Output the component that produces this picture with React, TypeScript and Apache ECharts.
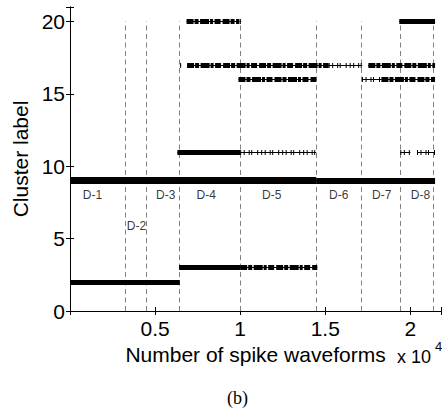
import React, { useEffect, useRef } from "react";
import * as echarts from "echarts";

// ---- data ----
const xMax = 21800;
const yMax = 21;
const xTicks = [5000, 10000, 15000, 20000];
const yTicks = [0, 5, 10, 15, 20];

// data-set boundaries (spike index)
const boundaries = [3235, 4470, 6410, 10000, 14470, 17100, 19410, 21340];

// data-set labels
const dsNames = ["D-1", "D-2", "D-3", "D-4", "D-5", "D-6", "D-7", "D-8"];
const dsLabelX = [1320, 3910, 5620, 8000, 11850, 15790, 18320, 20590];
const dsLabelY = [8, 5.9, 8, 8, 8, 8, 8, 8];

// spike runs per cluster: [start, end, density]
const cluster2: [number, number, string][] = [[0, 6450, "dense"]];
const cluster3: [number, number, string][] = [
  [6410, 10000, "dense"],
  [10000, 14530, "clumpy"],
];
const cluster9: [number, number, string][] = [
  [0, 14470, "heavy"],
  [14470, 21450, "thick"],
];
const cluster11: [number, number, string][] = [
  [6310, 10000, "dense"],
  [10000, 14470, "sparse"],
  [19410, 20000, "sparse"],
  [20390, 21450, "sparse"],
];
const cluster16: [number, number, string][] = [
  [9900, 14470, "clumpy"],
  [17160, 18300, "sparse"],
  [18300, 21450, "clumpy"],
];
const cluster17: [number, number, string][] = [
  [6470, 6530, "sparse"],
  [6880, 15200, "clumpy"],
  [15200, 17180, "sparse"],
  [17530, 21450, "clumpy"],
];
const cluster20: [number, number, string][] = [
  [6850, 9950, "clumpy"],
  [9980, 10060, "sparse"],
  [19350, 21450, "dense"],
];

const clusters: [number, [number, number, string][]][] = [
  [2, cluster2],
  [3, cluster3],
  [9, cluster9],
  [11, cluster11],
  [16, cluster16],
  [17, cluster17],
  [20, cluster20],
];

const densityStyle: Record<string, any> = {
  heavy: { width: 7, type: "solid" },
  thick: { width: 6, type: "solid" },
  dense: { width: 5, type: "solid" },
  clumpy: { width: 5, type: [7, 1, 4, 1.5, 9, 1, 3, 1.5, 6, 2] },
  sparse: { width: 5, type: [1, 2.5, 1, 4, 1, 1.5, 1, 5, 1, 3] },
};

const FONT = "Liberation Sans, Arial, Helvetica, sans-serif";

export default function App() {
  const ref = useRef<HTMLDivElement>(null);
  useEffect(() => {
    if (!ref.current) return;
    const chart = echarts.init(ref.current, undefined, { renderer: "svg" });

    const baseData: any[] = [];
    const overlayData: any[] = [];
    clusters.forEach(([label, runs]) => {
      runs.forEach(([s, e, d]) => {
        baseData.push({ coords: [[s, label], [e, label]] });
        overlayData.push({
          coords: [[s, label], [e, label]],
          lineStyle: { color: "#000", ...densityStyle[d] },
        });
      });
    });

    const boundaryData = boundaries.map((b) => ({
      coords: [[b, 0], [b, 20]],
    }));

    const labelData = dsNames.map((n, i) => ({
      name: n,
      value: [dsLabelX[i], dsLabelY[i]],
    }));

    const axisCommon = {
      type: "value" as const,
      axisLine: { show: true, lineStyle: { color: "#000", width: 1 } },
      axisTick: { show: true, inside: true, length: 4, lineStyle: { color: "#000" } },
      splitLine: { show: false },
    };

    chart.setOption({
      animation: false,
      backgroundColor: "#fff",
      grid: {
        left: 70,
        right: 1,
        top: 7,
        bottom: 100,
        containLabel: false,
        outerBoundsMode: "none",
      },
      xAxis: [
        {
          ...axisCommon,
          position: "bottom",
          min: 0,
          max: xMax,
          interval: 5000,
          axisLabel: {
            color: "#000",
            fontSize: 21,
            fontFamily: FONT,
            margin: 7,
            formatter: (v: number) =>
              xTicks.includes(v) ? String(v / 10000) : "",
          },
          name: "Number of spike waveforms",
          nameLocation: "middle",
          nameGap: 26,
          nameTextStyle: { color: "#000", fontSize: 21, fontFamily: FONT },
        },
        {
          ...axisCommon,
          position: "top",
          min: 0,
          max: xMax,
          interval: 5000,
          axisLabel: { show: false },
        },
      ],
      yAxis: [
        {
          ...axisCommon,
          position: "left",
          min: 0,
          max: yMax,
          interval: 5,
          axisLabel: {
            color: "#000",
            fontSize: 21,
            fontFamily: FONT,
            margin: 5,
            formatter: (v: number) => (yTicks.includes(v) ? String(v) : ""),
          },
          name: "Cluster label",
          nameLocation: "middle",
          nameGap: 31,
          nameTextStyle: { color: "#000", fontSize: 21, fontFamily: FONT },
        },
        {
          ...axisCommon,
          position: "right",
          min: 0,
          max: yMax,
          interval: 5,
          axisLabel: { show: false },
        },
      ],
      series: [
        {
          type: "lines",
          coordinateSystem: "cartesian2d",
          xAxisIndex: 0,
          yAxisIndex: 0,
          silent: true,
          lineStyle: { color: "#808080", width: 1, type: [5, 3.5], opacity: 1 },
          data: boundaryData,
          z: 1,
        },
        {
          type: "lines",
          coordinateSystem: "cartesian2d",
          xAxisIndex: 0,
          yAxisIndex: 0,
          silent: true,
          lineStyle: { color: "#000", width: 1, opacity: 1 },
          data: baseData,
          z: 2,
        },
        {
          type: "lines",
          coordinateSystem: "cartesian2d",
          xAxisIndex: 0,
          yAxisIndex: 0,
          silent: true,
          lineStyle: { color: "#000", width: 5, opacity: 1 },
          data: overlayData,
          z: 3,
        },
        {
          type: "scatter",
          xAxisIndex: 0,
          yAxisIndex: 0,
          symbolSize: 1,
          itemStyle: { color: "rgba(0,0,0,0)" },
          silent: true,
          label: {
            show: true,
            position: "inside",
            formatter: "{b}",
            color: "#000",
            fontSize: 12,
            fontFamily: FONT,
          },
          data: labelData,
          z: 4,
        },
      ],
      graphic: [
        {
          type: "text",
          left: 397,
          top: 348,
          style: { text: "x 10", fontSize: 18, fontFamily: FONT, fill: "#000" },
        },
        {
          type: "text",
          left: 435,
          top: 340,
          style: { text: "4", fontSize: 13, fontFamily: FONT, fill: "#000" },
        },
        {
          type: "text",
          left: 227,
          top: 389,
          style: {
            text: "(b)",
            fontSize: 18,
            fontFamily: "Liberation Serif, Times New Roman, serif",
            fill: "#000",
          },
        },
      ],
    });
    return () => chart.dispose();
  }, []);
  return (
    <div
      ref={ref}
      style={{ position: "fixed", left: 0, top: 0, width: 442, height: 411 }}
    />
  );
}
